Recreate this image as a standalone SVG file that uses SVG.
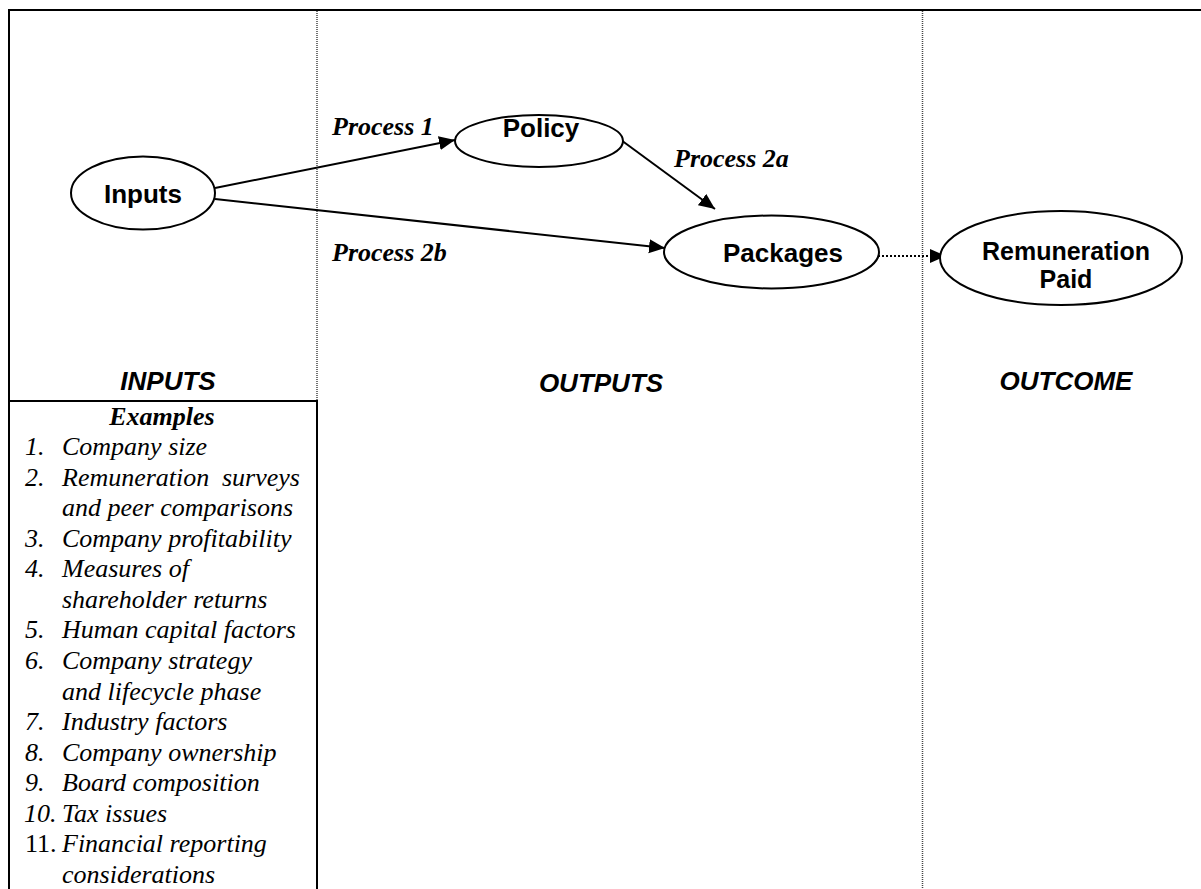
<svg xmlns="http://www.w3.org/2000/svg" width="1201" height="889" viewBox="0 0 1201 889">
<style>
.frame{stroke:#000;stroke-width:2;fill:none}
.dot{stroke:#444;stroke-width:1.5;stroke-dasharray:1 1;fill:none}
.node{fill:#fff;stroke:#000;stroke-width:2}
.nt{font-family:"Liberation Sans",Arial,sans-serif;font-weight:bold;font-size:26px;text-anchor:middle;fill:#000}
.hd{font-family:"Liberation Sans",Arial,sans-serif;font-weight:bold;font-style:italic;font-size:26px;text-anchor:middle;fill:#000}
.pl{font-family:"Liberation Serif","Times New Roman",serif;font-weight:bold;font-style:italic;font-size:26px;fill:#000}
.li{font-family:"Liberation Serif","Times New Roman",serif;font-style:italic;font-size:26px;fill:#000}
.edge{stroke:#000;stroke-width:2;fill:none}
.edot{stroke:#000;stroke-width:2;stroke-dasharray:2 2;fill:none}
</style>
<defs>
<marker id="ah" markerUnits="userSpaceOnUse" markerWidth="17" markerHeight="15" refX="16" refY="7" orient="auto">
<path d="M0,0 L16,7 L0,14 z" fill="#000"/>
</marker>
</defs>
<rect width="1201" height="889" fill="#fff"/>
<g id="frame">
<line class="frame" x1="9" y1="10" x2="1201" y2="10"/>
<line class="frame" x1="9" y1="9" x2="9" y2="889"/>
<line class="dot" x1="317" y1="11" x2="317" y2="400"/>
<line class="dot" x1="922.5" y1="11" x2="922.5" y2="889"/>
<line class="frame" x1="9" y1="401" x2="317" y2="401"/>
<line class="frame" x1="317" y1="400" x2="317" y2="889"/>
</g>
<g id="headings">
<text class="hd" x="168" y="390">INPUTS</text>
<text class="hd" x="601" y="392">OUTPUTS</text>
<text class="hd" x="1066" y="390">OUTCOME</text>
</g>
<g id="connectors">
<line class="edge" x1="215" y1="188" x2="455" y2="140" marker-end="url(#ah)"/>
<line class="edge" x1="215" y1="199" x2="665" y2="248" marker-end="url(#ah)"/>
<line class="edge" x1="621" y1="140" x2="715" y2="209" marker-end="url(#ah)"/>
<line class="edot" x1="874" y1="256" x2="946" y2="256" marker-end="url(#ah)"/>
<text class="pl" x="332" y="135">Process 1</text>
<text class="pl" x="674" y="167">Process 2a</text>
<text class="pl" x="332" y="261">Process 2b</text>
</g>
<g id="node-inputs">
<ellipse class="node" cx="143" cy="193" rx="72" ry="36.5"/>
<text class="nt" x="143" y="203">Inputs</text>
</g>
<g id="node-policy">
<ellipse class="node" cx="539" cy="141" rx="84" ry="26"/>
<text class="nt" x="541" y="137">Policy</text>
</g>
<g id="node-packages">
<ellipse class="node" cx="771.5" cy="252" rx="107.5" ry="36.5"/>
<text class="nt" x="783" y="262">Packages</text>
</g>
<g id="node-remuneration">
<ellipse class="node" cx="1061" cy="258" rx="121" ry="47"/>
<text class="nt" x="1066" y="260" style="font-size:25px">Remuneration</text>
<text class="nt" x="1066" y="288" style="font-size:25px">Paid</text>
</g>
<g id="examples">
<text class="pl" x="162" y="425" text-anchor="middle">Examples</text>
<text class="li" x="25" y="455">1.</text><text class="li" x="62" y="455">Company size</text>
<text class="li" x="25" y="485.6">2.</text><text class="li" x="62" y="485.6">Remuneration <tspan x="222">surveys</tspan></text>
<text class="li" x="62" y="516.1">and peer comparisons</text>
<text class="li" x="25" y="546.7">3.</text><text class="li" x="62" y="546.7">Company profitability</text>
<text class="li" x="25" y="577.3">4.</text><text class="li" x="62" y="577.3">Measures of</text>
<text class="li" x="62" y="607.8">shareholder returns</text>
<text class="li" x="25" y="638.4">5.</text><text class="li" x="62" y="638.4">Human capital factors</text>
<text class="li" x="25" y="669">6.</text><text class="li" x="62" y="669">Company strategy</text>
<text class="li" x="62" y="699.6">and lifecycle phase</text>
<text class="li" x="25" y="730.1">7.</text><text class="li" x="62" y="730.1">Industry factors</text>
<text class="li" x="25" y="760.7">8.</text><text class="li" x="62" y="760.7">Company ownership</text>
<text class="li" x="25" y="791.3">9.</text><text class="li" x="62" y="791.3">Board composition</text>
<text class="li" x="24" y="821.8">10.</text><text class="li" x="62" y="821.8">Tax issues</text>
<text class="li" x="25" y="852.4" style="font-style:normal">11.</text><text class="li" x="62" y="852.4">Financial reporting</text>
<text class="li" x="62" y="883">considerations</text>
</g>
</svg>
